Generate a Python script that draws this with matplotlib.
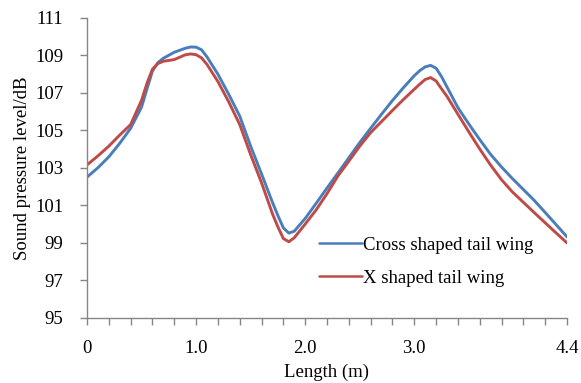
import matplotlib
matplotlib.use("Agg")
import matplotlib.pyplot as plt
from matplotlib.ticker import MultipleLocator, FixedLocator

# Sound pressure level along the body length for two tail-wing layouts
length_m = [0.0, 0.1, 0.2, 0.3, 0.4, 0.5, 0.55, 0.6, 0.65, 0.7, 0.8, 0.9,
            0.95, 1.0, 1.05, 1.1, 1.2, 1.3, 1.4, 1.5, 1.6, 1.7, 1.75, 1.8,
            1.85, 1.9, 2.0, 2.1, 2.2, 2.3, 2.4, 2.5, 2.6, 2.7, 2.8, 2.9, 3.0,
            3.05, 3.1, 3.15, 3.2, 3.25, 3.3, 3.4, 3.5, 3.6, 3.7, 3.8, 3.9,
            4.0, 4.1, 4.2, 4.3, 4.4]

cross_spl = [102.5, 103.0, 103.58, 104.3, 105.1, 106.23, 107.2, 108.15,
             108.6, 108.83, 109.15, 109.36, 109.43, 109.42, 109.28, 108.9,
             107.98, 106.9, 105.75, 104.15, 102.67, 101.16, 100.45, 99.8,
             99.52, 99.62, 100.3, 101.1, 101.92, 102.72, 103.53, 104.34, 105.1,
             105.85, 106.58, 107.26, 107.9, 108.17, 108.37, 108.45, 108.3,
             107.85, 107.3, 106.2, 105.33, 104.5, 103.71, 103.04, 102.42,
             101.84, 101.26, 100.62, 99.97, 99.32]

x_spl = [103.15, 103.63, 104.15, 104.74, 105.3, 106.59, 107.5, 108.25, 108.55,
         108.67, 108.76, 109.01, 109.06, 109.02, 108.85, 108.5, 107.59, 106.5,
         105.3, 103.7, 102.2, 100.55, 99.85, 99.23, 99.06, 99.27, 100.0,
         100.75, 101.62, 102.56, 103.35, 104.15, 104.87, 105.46, 106.05,
         106.63, 107.18, 107.45, 107.7, 107.8, 107.62, 107.2, 106.8, 105.85,
         104.91, 104.0, 103.14, 102.36, 101.71, 101.16, 100.61, 100.07, 99.53,
         99.0]

series_labels = ["Cross shaped tail wing", "X shaped tail wing"]
x_tick_values = [0.0, 1.0, 2.0, 3.0, 4.4]
x_tick_labels = ["0", "1.0", "2.0", "3.0", "4.4"]
y_tick_values = [95, 97, 99, 101, 103, 105, 107, 109, 111]

plt.rcParams["font.family"] = ["Liberation Serif", "DejaVu Serif"]
FS = 13.5

fig = plt.figure(figsize=(5.81, 3.83), dpi=100)
ax = fig.add_axes([87 / 581, 65 / 383, 480 / 581, 300.5 / 383])

ax.plot(length_m, cross_spl, color="#4A7EBB", lw=2.1, label=series_labels[0],
        solid_capstyle="round", solid_joinstyle="round")
ax.plot(length_m, x_spl, color="#BE4B48", lw=2.1, label=series_labels[1],
        solid_capstyle="round", solid_joinstyle="round")

ax.set_xlim(0, 4.4)
ax.set_ylim(95, 111)

axis_grey = "#868686"
for side in ("top", "right"):
    ax.spines[side].set_visible(False)
for side in ("left", "bottom"):
    ax.spines[side].set_color(axis_grey)
    ax.spines[side].set_linewidth(1.0)

ax.xaxis.set_major_locator(FixedLocator(x_tick_values))
ax.set_xticklabels(x_tick_labels)
ax.xaxis.set_minor_locator(MultipleLocator(0.2))
ax.set_yticks(y_tick_values)
ax.tick_params(axis="x", which="both", direction="out", length=5,
               color=axis_grey, width=1.0, labelsize=FS, pad=11)
ax.tick_params(axis="y", which="both", direction="out", length=5,
               color=axis_grey, width=1.0, labelsize=FS, pad=12)

ax.set_xlabel("Length (m)", fontsize=FS, labelpad=5)
ax.set_ylabel("Sound pressure level/dB", fontsize=FS, labelpad=3)

leg = ax.legend(loc="upper left", bbox_to_anchor=(0.484, 0.27), frameon=False,
                fontsize=FS, handlelength=2.3, handletextpad=0.05,
                labelspacing=0.85, borderpad=0.0, borderaxespad=0.0)
for h in leg.get_lines():
    h.set_linewidth(1.8)

fig.savefig("out.png", dpi=100)
